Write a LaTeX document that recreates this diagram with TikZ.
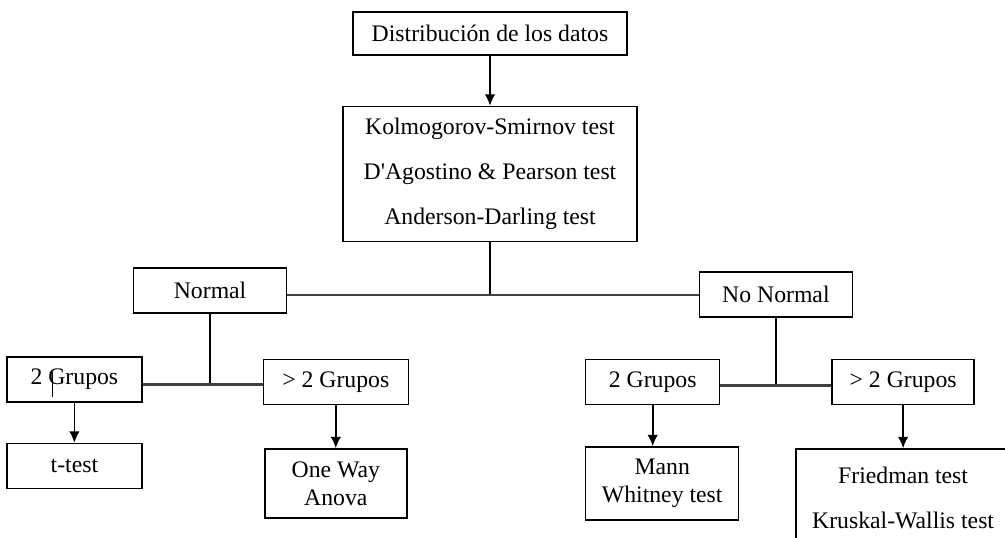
\documentclass[tikz,border=0pt]{standalone}
\usepackage{fontspec}
\setmainfont{Liberation Serif}
\usepackage{tikz}
\usetikzlibrary{arrows.meta,positioning}

\begin{document}
\begin{tikzpicture}[
    >={Latex[length=6.5pt,width=6pt]},
    font=\fontsize{13.5}{16}\selectfont,
    box/.style={rectangle, draw, line width=0.8pt, minimum width=2.7cm, minimum height=0.9cm, align=center, inner sep=2pt},
    widebox/.style={box, font=\fontsize{13.5}{25.5}\selectfont},
    link/.style={line width=0.9pt},
    hlink/.style={line width=1.2pt, draw=black!75}
]
    \useasboundingbox (0,0) rectangle (20.1,-10.74);

    % Data
    \node[box, minimum width=5.48cm, minimum height=0.86cm] (dist) at (9.8,-0.67) {Distribución de los datos};

    % Normality tests
    \node[widebox, minimum width=5.88cm, minimum height=2.7cm, below=1cm of dist] (tests) {Kolmogorov-Smirnov test\\D\textquotesingle{}Agostino \& Pearson test\\Anderson-Darling test};
    \coordinate[below=1.06cm of tests] (tjoin);

    % Distribution
    \node[box, minimum width=3.06cm, below left=0.5cm and 1.1cm of tests] (normal) {Normal};
    \node[box, minimum width=3.06cm, below right=0.58cm and 1.22cm of tests] (nonormal) {No Normal};

    % Normal branch
    \coordinate[below=1.42cm of normal] (njoin);
    \node[box, left=1.35cm of njoin, yshift=0.1cm] (n2) {2 Grupos};
    \node[box, minimum width=2.9cm, right=1.05cm of njoin, yshift=0.05cm] (n3) {> 2 Grupos};
    \node[box, below=0.8cm of n2] (ttest) {t-test};
    \node[box, minimum width=2.84cm, minimum height=1.38cm, below=0.86cm of n3] (anova) {One Way\\Anova};

    % Non normal branch
    \coordinate[below=1.36cm of nonormal] (nnjoin);
    \node[box, minimum width=2.68cm, left=1.11cm of nnjoin, yshift=0.07cm] (nn2) {2 Grupos};
    \node[box, minimum width=2.84cm, right=1.11cm of nnjoin, yshift=0.07cm] (nn3) {> 2 Grupos};
    \node[box, minimum width=3.06cm, minimum height=1.46cm, below right=0.82cm and 0cm of nn2.south west] (mann) {Mann\\Whitney test};
    \node[widebox, minimum width=4.28cm, minimum height=1.96cm, below=0.86cm of nn3] (kw) {Friedman test\\Kruskal-Wallis test};

    % Connections
    \draw[->, link] (dist) -- (tests);
    \draw[link] (tests) -- (tjoin);
    \draw[hlink] (normal.east |- tjoin) -- (nonormal.west |- tjoin);
    \draw[link] (normal) -- (njoin);
    \draw[hlink] (n2.east |- njoin) -- (n3.west |- njoin);
    \draw[->, link] (n2) -- (ttest);
    \draw[->, link] (n3) -- (anova);
    \draw[link] (nonormal) -- (nnjoin);
    \draw[hlink] (nn2.east |- nnjoin) -- (nn3.west |- nnjoin);
    \draw[->, link] (nn2) -- (nn2 |- mann.north);
    \draw[->, link] (nn3) -- (kw);
    \draw[link] ([xshift=-0.44cm, yshift=0.16cm]n2.center) -- ++(0,-0.5);
\end{tikzpicture}
\end{document}
